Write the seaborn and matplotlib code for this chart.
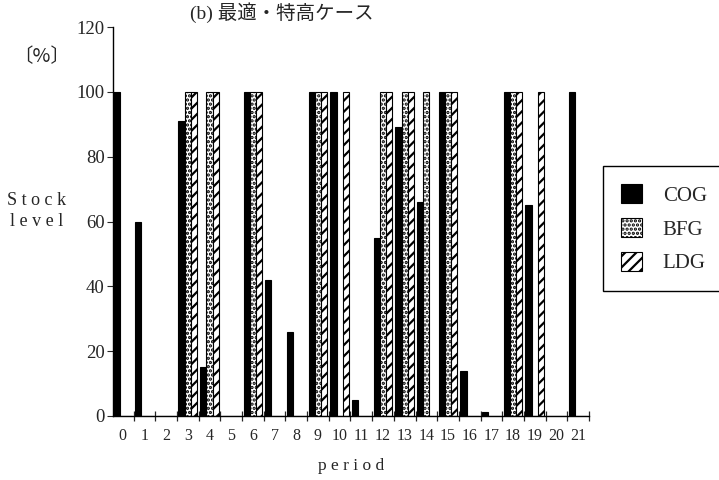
import pandas as pd
import numpy as np
import matplotlib
matplotlib.use('Agg')
import matplotlib.pyplot as plt
import seaborn as sns
from matplotlib.ticker import MultipleLocator, FixedLocator

# valores (b)
periodos = list(range(22))
cog = [100, 60, 0, 91, 15, 0, 100, 42, 26, 100, 100, 5, 55, 89, 66, 100, 14, 1.3, 100, 65, 0, 100]
bfg = [0, 0, 0, 100, 100, 0, 100, 0, 0, 100, 0, 0, 100, 100, 100, 100, 0, 0, 100, 0, 0, 0]
ldg = [0, 0, 0, 100, 100, 0, 100, 0, 0, 100, 100, 0, 100, 100, 0, 100, 0, 0, 100, 100, 0, 0]
series = ['COG', 'BFG', 'LDG']

df = pd.DataFrame({'period': periodos, 'COG': cog, 'BFG': bfg, 'LDG': ldg})
df_long = df.melt(id_vars='period', value_vars=series, var_name='serie', value_name='stock')

sns.set_style('ticks')
plt.rcParams['font.family'] = ['Liberation Serif', 'Noto Sans CJK JP']
plt.rcParams['hatch.linewidth'] = 1.6

fig = plt.figure(figsize=(7.19, 4.8), dpi=100)
ax = fig.add_axes([113 / 719, 1 - 416 / 480, 476 / 719, 389 / 480])

sns.barplot(data=df_long, x='period', y='stock', hue='serie', hue_order=series,
            palette=['black', 'white', 'white'], width=0.86, saturation=1,
            edgecolor='black', linewidth=0.8, legend=False, ax=ax)

hatches = ['', '....', '///']
for cont, h in zip(ax.containers, hatches):
    for p in cont:
        p.set_hatch(h)
        p.set_edgecolor('black')

ax.set_xlim(-0.45, 21.5)
ax.set_ylim(0, 120)
ax.yaxis.set_major_locator(MultipleLocator(20))
ax.xaxis.set_minor_locator(FixedLocator(np.arange(-0.5, 22, 1)))
ax.tick_params(axis='x', which='major', length=0, pad=9, labelsize=11.5)
ax.tick_params(axis='x', which='minor', length=7, direction='inout', width=0.9)
ax.tick_params(axis='y', length=4, direction='out', pad=2, labelsize=13.5)
sns.despine(ax=ax)
for s in ['left', 'bottom']:
    ax.spines[s].set_linewidth(1.0)
    ax.spines[s].set_color('black')

ax.set_xlabel('p e r i o d', fontsize=12.5, labelpad=10)
ax.set_ylabel('')

fig.text(37 / 719, 1 - 200 / 480, 'S t o c k', ha='center', va='center', fontsize=13)
fig.text(37 / 719, 1 - 222 / 480, 'l e v e l', ha='center', va='center', fontsize=13)
fig.text(42 / 719, 1 - 57 / 480, '〔%〕', ha='center', va='center', fontsize=14,
         family=['Noto Sans CJK JP', 'Liberation Serif'])
fig.text(190 / 719, 1 - 13 / 480, '(b) 最適・特高ケース', ha='left', va='center', fontsize=14,
         family=['Liberation Serif', 'Noto Sans CJK JP'])

leg = fig.legend(ax.containers, series, loc='upper left',
                 bbox_to_anchor=(593 / 719, 1 - 290 / 480, 0.3, 134 / 480), mode='expand',
                 fontsize=15, handlelength=1.0, handleheight=1.0, handletextpad=1.0,
                 labelspacing=0.6, borderpad=0.85, fancybox=False, framealpha=1,
                 edgecolor='black')
leg.get_frame().set_linewidth(1.0)

plt.savefig('out.png', dpi=100)
